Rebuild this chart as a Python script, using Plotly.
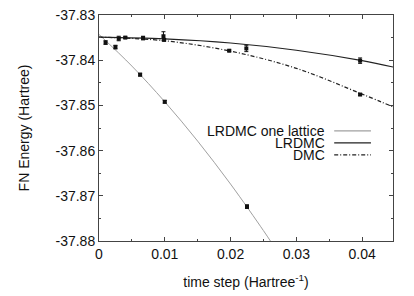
import plotly.graph_objects as go

# ---- data ----
# LRDMC one lattice (points)
ol_t = [0.001, 0.0025, 0.00625, 0.01, 0.0225]
ol_e = [-37.8361, -37.8371, -37.8432, -37.8492, -37.8724]
ol_err = [0.0004, 0.0004, 0.0003, 0.0003, 0.0004]
# LRDMC one lattice (fit curve)
ol_fit_t = [0.0, 0.005, 0.01, 0.015, 0.02, 0.025, 0.0262]
ol_fit_e = [-37.8343, -37.8413, -37.8492, -37.8579, -37.8674, -37.8777, -37.8803]

# LRDMC (points)
lr_t = [0.003, 0.0067, 0.0098, 0.0224, 0.0397]
lr_e = [-37.8352, -37.8351, -37.8347, -37.8374, -37.8401]
lr_err = [0.0005, 0.0004, 0.0010, 0.0007, 0.0006]
# LRDMC (fit curve)
lr_fit_t = [0.0, 0.01, 0.02, 0.03, 0.04, 0.045]
lr_fit_e = [-37.8349, -37.8353, -37.8362, -37.8378, -37.8401, -37.8416]

# DMC (points)
dmc_t = [0.004, 0.0099, 0.0198, 0.0397]
dmc_e = [-37.8350, -37.8355, -37.8379, -37.8476]
dmc_err = [0.0002, 0.0002, 0.0002, 0.0002]
# DMC (fit curve)
dmc_fit_t = [0.0, 0.01, 0.02, 0.03, 0.04, 0.045]
dmc_fit_e = [-37.8349, -37.8357, -37.8380, -37.8418, -37.8475, -37.8505]

legend_labels = ["LRDMC one lattice", "LRDMC", "DMC"]
x_ticks = [0, 0.01, 0.02, 0.03, 0.04]
x_tick_text = ["0", "0.01", "0.02", "0.03", "0.04"]
y_ticks = [-37.83, -37.84, -37.85, -37.86, -37.87, -37.88]
y_tick_text = ["-37.83", "-37.84", "-37.85", "-37.86", "-37.87", "-37.88"]

FONT = "Liberation Sans, Arial, sans-serif"
FS = 14
GRAY = "#a0a0a0"
DASHDOT = "4px,2px,1px,2px"

fig = go.Figure()

fig.add_trace(go.Scatter(x=ol_fit_t, y=ol_fit_e, mode="lines", line_shape="spline",
                         line=dict(color=GRAY, width=1), showlegend=False, hoverinfo="skip"))
fig.add_trace(go.Scatter(x=lr_fit_t, y=lr_fit_e, mode="lines", line_shape="spline",
                         line=dict(color="#222222", width=1.2), showlegend=False, hoverinfo="skip"))
fig.add_trace(go.Scatter(x=dmc_fit_t, y=dmc_fit_e, mode="lines", line_shape="spline",
                         line=dict(color="#222222", width=1.2, dash=DASHDOT), showlegend=False, hoverinfo="skip"))

for t, e, err in [(ol_t, ol_e, ol_err), (lr_t, lr_e, lr_err), (dmc_t, dmc_e, dmc_err)]:
    fig.add_trace(go.Scatter(x=t, y=e, mode="markers",
                             marker=dict(symbol="square", size=4, color="#111111"),
                             error_y=dict(type="data", array=err, color="#111111", thickness=1, width=2),
                             showlegend=False))

# manual legend (text left, sample right), gnuplot style
leg_y = [0.487, 0.434, 0.381]
leg_dash = ["solid", "solid", DASHDOT]
leg_col = [GRAY, "#222222", "#222222"]
for lab, yy, dsh, col in zip(legend_labels, leg_y, leg_dash, leg_col):
    fig.add_annotation(x=0.777, y=yy, xref="paper", yref="paper", text=lab, showarrow=False,
                       xanchor="right", yanchor="middle", height=11, valign="middle",
                       font=dict(family=FONT, size=FS, color="#111111"))
    fig.add_shape(type="line", xref="paper", yref="paper", x0=0.8, x1=0.925, y0=yy, y1=yy,
                  line=dict(color=col, width=1.2, dash=dsh))

axis_common = dict(showline=True, linecolor="#444444", linewidth=1, mirror="allticks",
                   ticks="inside", ticklen=4, tickcolor="#444444", showgrid=False, zeroline=False,
                   automargin=False,
                   tickfont=dict(family=FONT, size=FS, color="#111111"))

fig.update_xaxes(range=[0, 0.0447], tickvals=x_ticks, ticktext=x_tick_text,
                 minor=dict(ticks="inside", ticklen=2, tickcolor="#444444", dtick=0.005, tick0=0),
                 title=dict(text="time step (Hartree<sup>-1</sup>)", font=dict(family=FONT, size=FS, color="#111111"),
                            standoff=16),
                 **axis_common)
fig.update_yaxes(range=[-37.88, -37.83], tickvals=y_ticks, ticktext=y_tick_text,
                 minor=dict(ticks="inside", ticklen=2, tickcolor="#444444", dtick=0.005, tick0=-37.88),
                 title=dict(text="FN Energy (Hartree)", font=dict(family=FONT, size=FS, color="#111111"),
                            standoff=22),
                 **axis_common)

fig.update_layout(width=414, height=296, margin=dict(l=99, r=21, t=15, b=55),
                  paper_bgcolor="white", plot_bgcolor="white", showlegend=False,
                  font=dict(family=FONT, size=FS, color="#111111"))

fig.write_html("out.html", config={"displayModeBar": False},
               post_script="document.body.style.margin='0';")
